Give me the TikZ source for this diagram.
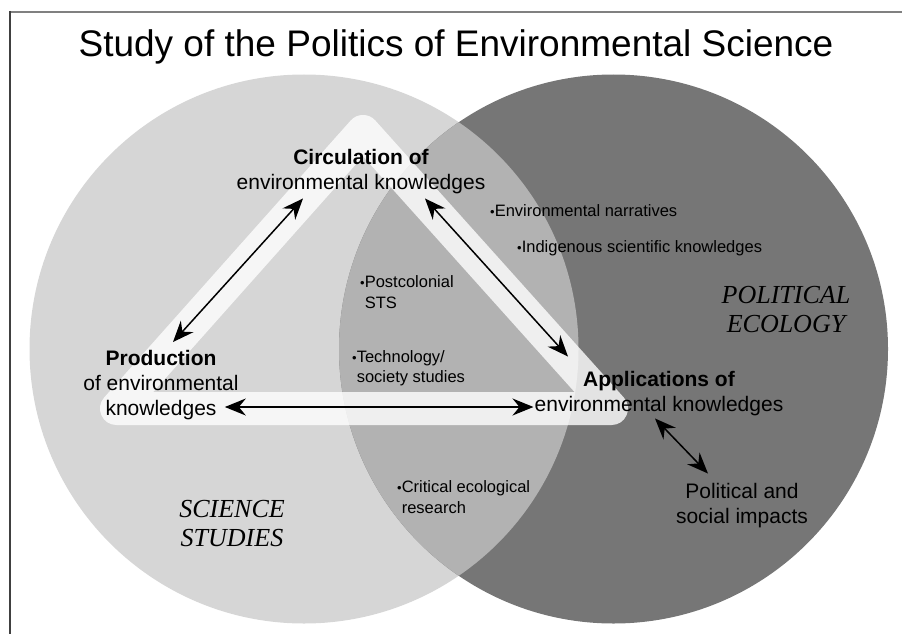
\documentclass[tikz,border=0pt]{standalone}
\usepackage{fontspec}
\setmainfont{Liberation Sans}
\newfontfamily\fieldfont{Liberation Serif}
\usetikzlibrary{arrows.meta}
\usetikzlibrary{positioning}
\definecolor{sciencegray}{HTML}{D6D6D6}
\definecolor{ecologygray}{HTML}{767676}
\definecolor{overlapgray}{HTML}{B2B2B2}
\newcommand{\bul}{{\fontsize{13}{13}\selectfont\textbullet}}
\tikzset{
    stage/.style={
           inner sep=0pt,
           align=center,
           font=\fontsize{21}{25}\selectfont,
           },
}
\tikzset{
    note/.style={
           anchor=west,
           inner sep=0pt,
           align=left,
           font=\fontsize{16.5}{20.5}\selectfont,
           },
}
\tikzset{
    field/.style={
           inner sep=0pt,
           align=center,
           font=\fieldfont\itshape\fontsize{26}{29}\selectfont,
           },
}
\begin{document}
\begin{tikzpicture}[x=1pt,y=-1pt,>={Stealth[length=21pt,width=17pt,inset=7pt]}]
\useasboundingbox (0,0) rectangle (902,634);

 \draw[gray, line width=2pt] (9,12) -- (902,12);
 \draw[black!75, line width=2pt] (10,11) -- (10,634);

 \node[font=\fontsize{37}{40}\selectfont, inner sep=0pt] (title) at (456,47)
 {Study of the Politics of Environmental Science};

 \fill[sciencegray] (304,349) circle[radius=274.5];
 \fill[ecologygray] (613.5,349) circle[radius=274.5];
 \begin{scope}
  \clip (304,349) circle[radius=274.5];
  \fill[overlapgray] (613.5,349) circle[radius=274.5];
 \end{scope}

 \draw[white, opacity=0.8, line width=33pt, line join=round]
  (363,131.5) -- (116.5,408.5) -- (611.5,408.5) -- cycle;

 \node[stage] (circ) at (361,172)
 {\textbf{Circulation of}\\environmental knowledges};

 \node[stage,
  below of=circ,
  node distance=213pt,
  xshift=-200pt] (prod)
 {\textbf{Production}\\of environmental\\knowledges};

 \node[stage,
  right of=prod,
  node distance=498pt,
  yshift=-9pt] (appl)
 {\textbf{Applications of}\\environmental knowledges};

 \node[stage,
  below of=appl,
  node distance=112pt,
  xshift=83pt] (impact)
 {Political and\\social impacts};

 \node[note] (narr) at (490,211) {\bul Environmental narratives};
 \node[note] (indig) at (517,248) {\bul Indigenous scientific knowledges};
 \node[note] (postc) at (360,292) {\bul Postcolonial\\\hphantom{\bul}STS};
 \node[note] (techn) at (352,368) {\bul Technology/\\\hphantom{\bul}society studies};
 \node[note] (crit) at (397,497) {\bul Critical ecological\\\hphantom{\bul}research};

 \node[field] (science) at (232,524) {SCIENCE\\STUDIES};
 \node[field] (ecology) at (786,310) {POLITICAL\\ECOLOGY};

 \path[<->, line width=1.5pt]
  ([xshift=-58pt,yshift=-4pt]circ.south) edge ([xshift=12pt,yshift=8pt]prod.north)
  ([xshift=64pt,yshift=-4pt]circ.south) edge ([xshift=-91pt,yshift=15pt]appl.north)
  ([xshift=-14pt,yshift=-22pt]prod.east) edge ([xshift=-1pt,yshift=-13pt]appl.west)
  ([xshift=-4pt,yshift=-2pt]appl.south) edge ([xshift=-34pt,yshift=10pt]impact.north)
;

\end{tikzpicture}
\end{document}
